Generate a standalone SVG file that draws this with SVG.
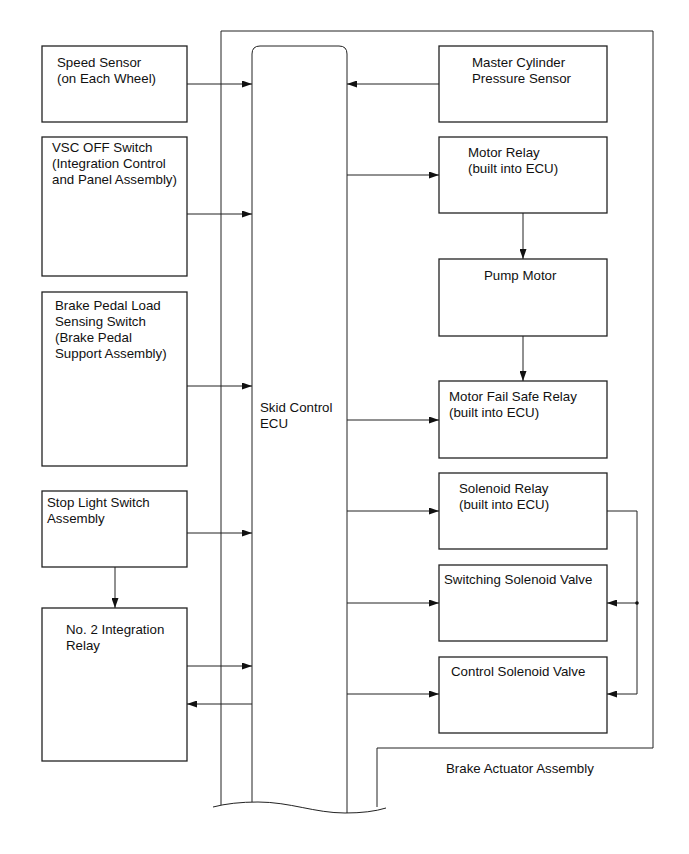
<svg xmlns="http://www.w3.org/2000/svg" width="689" height="854" viewBox="0 0 689 854">
<style>
.box{fill:#fff;stroke:#222;stroke-width:1.3}
.ln{fill:none;stroke:#222;stroke-width:1}
text{font-family:"Liberation Sans",Arial,sans-serif;font-size:13.3px;fill:#111}
</style>
<defs>
<marker id="ah" markerWidth="10" markerHeight="7" refX="10" refY="3.5" orient="auto" markerUnits="userSpaceOnUse">
<path d="M0,0 L10,3.5 L0,7 Z" fill="#111"/>
</marker>
</defs>
<rect width="689" height="854" fill="#fff"/>
<g id="brake-actuator-assembly">
<path class="ln" d="M221,805 V31 H653 V748 H377 V807" stroke-width="1.2"/>
<text x="446" y="773">Brake Actuator Assembly</text>
</g>
<g id="skid-control-ecu">
<path class="ln" d="M252,802 V54 Q252,46 260,46 H339 Q347,46 347,54 V813" stroke-width="1.3"/>
<path class="ln" d="M213,807 Q232,802 258,802 C290,802 315,813 345,813 Q370,813 386,808" stroke-width="0.8"/>
<text x="260" y="412">Skid Control</text>
<text x="260" y="428">ECU</text>
</g>
<g id="speed-sensor">
<rect class="box" x="42" y="46" width="145" height="76"/>
<text x="57" y="67">Speed Sensor</text>
<text x="57" y="83">(on Each Wheel)</text>
</g>
<g id="vsc-off-switch">
<rect class="box" x="42" y="137" width="145" height="139"/>
<text x="52" y="152">VSC OFF Switch</text>
<text x="52" y="168">(Integration Control</text>
<text x="52" y="184">and Panel Assembly)</text>
</g>
<g id="brake-pedal-load-sensing-switch">
<rect class="box" x="42" y="292" width="145" height="174"/>
<text x="55" y="310">Brake Pedal Load</text>
<text x="55" y="326">Sensing Switch</text>
<text x="55" y="342">(Brake Pedal</text>
<text x="55" y="358">Support Assembly)</text>
</g>
<g id="stop-light-switch">
<rect class="box" x="42" y="491" width="145" height="76"/>
<text x="47" y="507">Stop Light Switch</text>
<text x="47" y="523">Assembly</text>
</g>
<g id="no2-integration-relay">
<rect class="box" x="42" y="608" width="145" height="153"/>
<text x="66" y="634">No. 2 Integration</text>
<text x="66" y="650">Relay</text>
</g>
<g id="master-cylinder-pressure-sensor">
<rect class="box" x="439" y="46" width="168" height="76"/>
<text x="472" y="67">Master Cylinder</text>
<text x="472" y="83">Pressure Sensor</text>
</g>
<g id="motor-relay">
<rect class="box" x="439" y="137" width="168" height="76"/>
<text x="468" y="157">Motor Relay</text>
<text x="468" y="173">(built into ECU)</text>
</g>
<g id="pump-motor">
<rect class="box" x="439" y="259" width="168" height="77"/>
<text x="484" y="280">Pump Motor</text>
</g>
<g id="motor-fail-safe-relay">
<rect class="box" x="439" y="381" width="168" height="77"/>
<text x="449" y="401">Motor Fail Safe Relay</text>
<text x="449" y="417">(built into ECU)</text>
</g>
<g id="solenoid-relay">
<rect class="box" x="439" y="473" width="168" height="76"/>
<text x="459" y="493">Solenoid Relay</text>
<text x="459" y="509">(built into ECU)</text>
</g>
<g id="switching-solenoid-valve">
<rect class="box" x="439" y="565" width="168" height="76"/>
<text x="444" y="584">Switching Solenoid Valve</text>
</g>
<g id="control-solenoid-valve">
<rect class="box" x="439" y="657" width="168" height="76"/>
<text x="451" y="676">Control Solenoid Valve</text>
</g>
<g id="connectors">
<line class="ln" x1="187" y1="84" x2="252" y2="84" marker-end="url(#ah)"/>
<line class="ln" x1="187" y1="214" x2="252" y2="214" marker-end="url(#ah)"/>
<line class="ln" x1="187" y1="386" x2="252" y2="386" marker-end="url(#ah)"/>
<line class="ln" x1="187" y1="533" x2="252" y2="533" marker-end="url(#ah)"/>
<line class="ln" x1="115" y1="567" x2="115" y2="608" marker-end="url(#ah)"/>
<line class="ln" x1="187" y1="666" x2="252" y2="666" marker-end="url(#ah)"/>
<line class="ln" x1="252" y1="704" x2="187" y2="704" marker-end="url(#ah)"/>
<line class="ln" x1="439" y1="84" x2="347" y2="84" marker-end="url(#ah)"/>
<line class="ln" x1="347" y1="175" x2="439" y2="175" marker-end="url(#ah)"/>
<line class="ln" x1="523" y1="213" x2="523" y2="259" marker-end="url(#ah)"/>
<line class="ln" x1="523" y1="336" x2="523" y2="381" marker-end="url(#ah)"/>
<line class="ln" x1="347" y1="420" x2="439" y2="420" marker-end="url(#ah)"/>
<line class="ln" x1="347" y1="511" x2="439" y2="511" marker-end="url(#ah)"/>
<line class="ln" x1="347" y1="603" x2="439" y2="603" marker-end="url(#ah)"/>
<line class="ln" x1="347" y1="694" x2="439" y2="694" marker-end="url(#ah)"/>
<path class="ln" d="M607,511 H637 V694 H607" marker-end="url(#ah)"/>
<line class="ln" x1="637" y1="603" x2="607" y2="603" marker-end="url(#ah)"/>
<circle cx="637" cy="603" r="1.8" fill="#111"/>
</g>
</svg>
